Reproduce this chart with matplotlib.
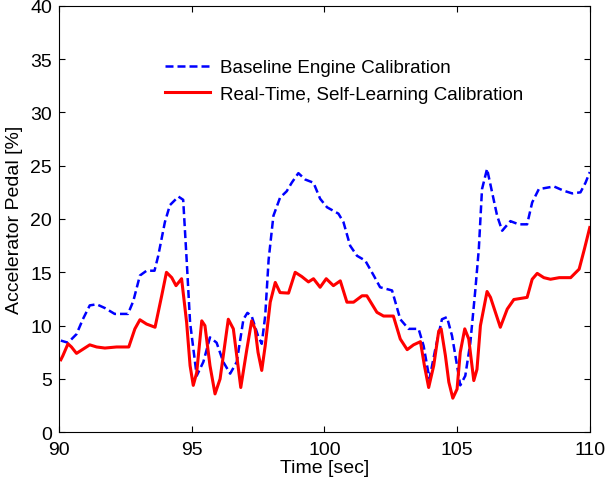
import matplotlib.pyplot as plt

# values
t_base = [90.07, 90.34, 90.66, 90.9, 91.16, 91.42, 91.73, 92.1, 92.6, 92.8,
          93.05, 93.3, 93.6, 93.74, 93.99, 94.18, 94.5, 94.68, 94.81, 94.94,
          95.19, 95.44, 95.69, 95.94, 96.19, 96.45, 96.7, 96.95, 97.1, 97.26,
          97.5, 97.64, 97.77, 97.9, 98.08, 98.33, 98.58, 98.77, 99.02, 99.28,
          99.59, 99.84, 100.1, 100.53, 100.72, 100.97, 101.23, 101.54, 101.86, 102.1,
          102.55, 102.86, 103.17, 103.55, 103.74, 103.96, 104.18, 104.43, 104.62, 104.81,
          105.0, 105.12, 105.31, 105.5, 105.69, 105.82, 105.94, 106.13, 106.32, 106.51,
          106.7, 107.01, 107.32, 107.64, 107.83, 108.08, 108.65, 109.02, 109.34, 109.65,
          109.84, 110.0]
baseline = [8.6, 8.4, 9.2, 10.6, 11.9, 12.0, 11.65, 11.1, 11.1, 12.3,
            14.7, 15.15, 15.15, 16.55, 19.7, 21.3, 22.1, 21.8, 16.2, 10.3,
            5.3, 6.6, 8.9, 8.4, 6.6, 5.5, 6.6, 10.6, 11.2, 10.9,
            9.05, 8.3, 10.9, 16.2, 20.3, 22.0, 22.6, 23.4, 24.3, 23.7,
            23.4, 21.9, 21.1, 20.5, 19.7, 17.5, 16.55, 16.1, 14.7, 13.6,
            13.3, 10.6, 9.7, 9.7, 8.1, 5.0, 7.8, 10.6, 10.8, 9.05,
            6.25, 4.4, 5.3, 8.4, 13.4, 17.2, 22.8, 24.7, 22.5, 20.3,
            18.9, 19.8, 19.5, 19.5, 21.55, 22.8, 23.05, 22.65, 22.4, 22.5,
            23.4, 24.4]

t_rt = [90.07, 90.15, 90.34, 90.47, 90.66, 90.91, 91.16, 91.42, 91.73, 92.17,
        92.63, 92.86, 93.05, 93.3, 93.62, 93.87, 94.05, 94.25, 94.41, 94.62,
        94.81, 94.94, 95.06, 95.19, 95.38, 95.5, 95.69, 95.88, 96.07, 96.38,
        96.57, 96.85, 97.08, 97.26, 97.39, 97.5, 97.64, 97.77, 97.96, 98.15,
        98.33, 98.65, 98.9, 99.15, 99.4, 99.59, 99.84, 100.07, 100.34, 100.6,
        100.85, 101.1, 101.42, 101.6, 101.98, 102.23, 102.6, 102.86, 103.12, 103.36,
        103.62, 103.77, 103.93, 104.12, 104.31, 104.4, 104.56, 104.69, 104.84, 105.0,
        105.12, 105.29, 105.44, 105.63, 105.75, 105.88, 106.13, 106.26, 106.63, 106.89,
        107.14, 107.39, 107.64, 107.83, 108.02, 108.27, 108.52, 108.85, 109.28, 109.6,
        109.8, 110.0]
realtime = [6.8, 7.2, 8.3, 8.0, 7.4, 7.8, 8.2, 8.0, 7.9, 8.0,
            8.0, 9.7, 10.55, 10.15, 9.85, 12.8, 15.0, 14.5, 13.75, 14.4,
            10.3, 6.25, 4.4, 5.6, 10.45, 10.0, 6.25, 3.6, 5.0, 10.6,
            9.7, 4.2, 7.8, 10.45, 9.7, 7.5, 5.8, 8.1, 12.2, 14.05,
            13.1, 13.05, 15.0, 14.6, 14.1, 14.4, 13.6, 14.4, 13.75, 14.2,
            12.2, 12.2, 12.8, 12.8, 11.25, 10.9, 10.9, 8.75, 7.75, 8.2,
            8.5, 6.25, 4.2, 6.25, 9.5, 9.7, 7.2, 4.7, 3.2, 4.05,
            7.5, 9.7, 8.75, 4.85, 5.9, 10.0, 13.2, 12.65, 9.85, 11.55,
            12.45, 12.55, 12.65, 14.35, 14.9, 14.5, 14.35, 14.5, 14.5, 15.3,
            17.2, 19.2]

plt.rcParams['font.family'] = ['Liberation Sans', 'DejaVu Sans']
plt.rcParams['font.size'] = 14

fig = plt.figure(figsize=(6.08, 4.85), dpi=100)
ax = fig.add_axes([0.097, 0.1066, 0.873, 0.8796])

ax.plot(t_base, baseline, color='#0000ff', lw=1.8, dashes=(3.2, 1.6),
        label='Baseline Engine Calibration')
ax.plot(t_rt, realtime, color='#ff0000', lw=2.2,
        label='Real-Time, Self-Learning Calibration')

ax.set_xlim(90, 110)
ax.set_ylim(0, 40)
ax.set_xticks([90, 95, 100, 105, 110])
ax.set_yticks(range(0, 41, 5))
ax.tick_params(direction='in', top=True, right=True, length=4, labelsize=14)
ax.tick_params(axis='x', pad=6)
ax.tick_params(axis='y', pad=5)
ax.set_xlabel('Time [sec]', fontsize=14, labelpad=1)
ax.set_ylabel('Accelerator Pedal [%]', fontsize=14, labelpad=5)

ax.legend(loc='upper left', bbox_to_anchor=(0.2, 0.875), frameon=False,
          fontsize=13.6, handlelength=2.4, handletextpad=0.5, labelspacing=0.5,
          borderpad=0, borderaxespad=0)

fig.savefig('out.png', dpi=100)
